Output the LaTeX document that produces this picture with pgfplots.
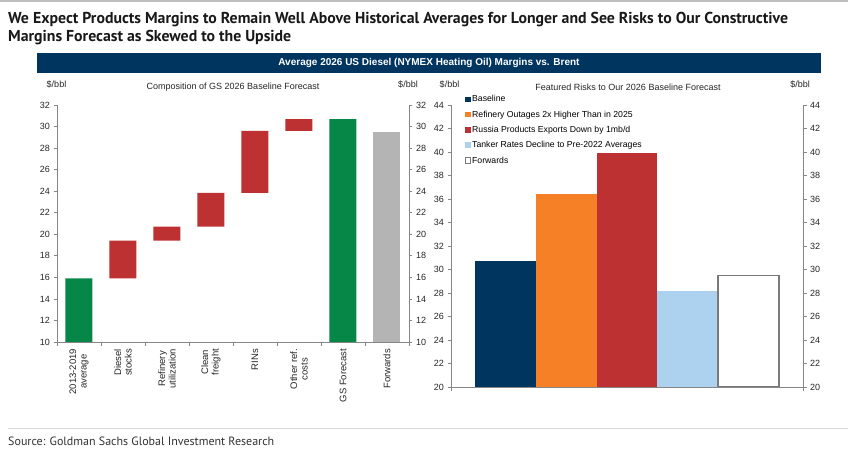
\documentclass[border=0pt]{standalone}
\usepackage{pgfplots}
\pgfplotsset{compat=1.18}
\usepackage{fontspec}
\setmainfont{Liberation Sans}
\newfontfamily\titlefont{PT Sans}

\definecolor{gsnavy}{HTML}{003560}
\definecolor{gsgreen}{HTML}{078747}
\definecolor{gsred}{HTML}{BE3133}
\definecolor{gsgray}{HTML}{B4B4B4}
\definecolor{gsorange}{HTML}{F58026}
\definecolor{gslblue}{HTML}{ACD2EF}
\definecolor{axgray}{HTML}{868686}
\definecolor{fwdgray}{HTML}{7A7A7A}

\pgfplotsset{
  gsbase/.style={
    scale only axis, anchor=south west, width=352pt,
    tick align=outside, major tick length=3.5pt,
    axis line style={draw=axgray, line width=0.8pt},
    tick style={draw=axgray, line width=0.8pt},
    tick label style={font=\fontsize{9}{10}\selectfont, text=black!85},
    /pgf/number format/assume math mode=true,
    axis on top,
  },
}

\begin{document}
\begin{tikzpicture}
\path[use as bounding box, fill=white] (0pt,0pt) rectangle (848pt,458pt);
\draw[black!25, line width=1.5pt] (0pt,457pt) -- (848pt,457pt);

% headline
\node[anchor=base west, inner sep=0pt, text=black!90] at (8pt,434pt)
  {\titlefont\bfseries\fontsize{15.8}{17}\selectfont We Expect Products Margins to Remain Well Above Historical Averages for Longer and See Risks to Our Constructive};
\node[anchor=base west, inner sep=0pt, text=black!90] at (8pt,416.5pt)
  {\titlefont\bfseries\fontsize{15.8}{17}\selectfont Margins Forecast as Skewed to the Upside};

% banner
\fill[gsnavy] (37pt,385pt) rectangle (821pt,405pt);
\node[text=white, inner sep=0pt] at (429pt,395pt)
  {\bfseries\fontsize{10}{12}\selectfont Average 2026 US Diesel (NYMEX Heating Oil) Margins vs. Brent};

% chart captions
\begin{scope}[every node/.style={inner sep=0pt, font=\fontsize{9}{10}\selectfont, text=black!85}]
\node at (56.5pt,374pt) {\$/bbl};
\node at (408pt,374pt) {\$/bbl};
\node at (449.5pt,374pt) {\$/bbl};
\node at (800pt,374pt) {\$/bbl};
\node at (233pt,371pt) {Composition of GS 2026 Baseline Forecast};
\node at (628pt,371pt) {Featured Risks to Our 2026 Baseline Forecast};
\end{scope}

% left: waterfall
\begin{axis}[gsbase, at={(57pt,116pt)}, height=237pt,
  xmin=-0.5, xmax=7.5, ymin=10, ymax=32, ytick={10,12,...,32},
  axis x line*=bottom, axis y line*=left,
  xtick={0,...,7}, xtick style={draw=none},
  xticklabels={{2013-2019\\average},{Diesel\\stocks},{Refinery\\utilization},{Clean\\freight},{RINs},{Other ref.\\costs},{GS Forecast},{Forwards}},
  x tick label style={rotate=90, anchor=east, align=center, font=\fontsize{9.5}{10.5}\selectfont},
  ybar stacked, bar width=27pt]
\addplot[fill=none, draw=none] coordinates {(0,0) (1,15.9) (2,19.4) (3,20.7) (4,23.85) (5,29.6) (6,0) (7,0)};
\addplot[fill=gsgreen, draw=none] coordinates {(0,15.9) (1,0) (2,0) (3,0) (4,0) (5,0) (6,30.7) (7,0)};
\addplot[fill=gsred, draw=none] coordinates {(0,0) (1,3.5) (2,1.3) (3,3.15) (4,5.75) (5,1.1) (6,0) (7,0)};
\addplot[fill=gsgray, draw=none] coordinates {(0,0) (1,0) (2,0) (3,0) (4,0) (5,0) (6,0) (7,29.5)};
\end{axis}
\begin{axis}[gsbase, at={(57pt,116pt)}, height=237pt,
  xmin=-0.5, xmax=7.5, ymin=10, ymax=32, ytick={10,12,...,32},
  axis x line*=bottom, axis y line*=right,
  xtick={-0.5,0.5,...,7.5}, xticklabels={}]
\addplot[draw=none] coordinates {(0,20)};
\end{axis}

% right: scenarios
\begin{axis}[gsbase, at={(451pt,71pt)}, height=282pt,
  xmin=-0.895, xmax=4.895, ymin=20, ymax=44, ytick={20,22,...,44},
  axis x line*=bottom, axis y line*=left,
  xtick={-0.895,4.895}, xticklabels={},
  ybar, bar width=60.8pt,
  legend style={at={(0.03,1.045)}, anchor=north west, draw=none, fill=none,
    font=\fontsize{8.7}{9.5}\selectfont, row sep=5.2pt,
    nodes={inner sep=1pt, text height=6.3pt, text depth=1.8pt}},
  legend cell align=left,
  legend image code/.code={\path[#1, line width=0.9pt] (0.5pt,-2.5pt) rectangle (6pt,3pt);}]
\addplot[fill=gsnavy, draw=none, bar shift=0pt] coordinates {(0,30.7)};
\addlegendentry{Baseline}
\addplot[fill=gsorange, draw=none, bar shift=0pt] coordinates {(1,36.4)};
\addlegendentry{Refinery Outages 2x Higher Than in 2025}
\addplot[fill=gsred, draw=none, bar shift=0pt] coordinates {(2,39.9)};
\addlegendentry{Russia Products Exports Down by 1mb/d}
\addplot[fill=gslblue, draw=none, bar shift=0pt] coordinates {(3,28.2)};
\addlegendentry{Tanker Rates Decline to Pre-2022 Averages}
\addplot[fill=white, draw=fwdgray, line width=1.5pt, bar shift=0pt] coordinates {(4,29.5)};
\addlegendentry{Forwards}
\end{axis}
\begin{axis}[gsbase, at={(451pt,71pt)}, height=282pt,
  xmin=-0.895, xmax=4.895, ymin=20, ymax=44, ytick={20,22,...,44},
  axis x line=none, axis y line*=right]
\addplot[draw=none] coordinates {(0,30)};
\end{axis}

% source
\draw[black!15, line width=0.8pt] (8pt,30pt) -- (848pt,30pt);
\node[anchor=base west, inner sep=0pt, text=black!80] at (8pt,13pt)
  {\titlefont\fontsize{12}{14}\selectfont Source: Goldman Sachs Global Investment Research};
\end{tikzpicture}
\end{document}
